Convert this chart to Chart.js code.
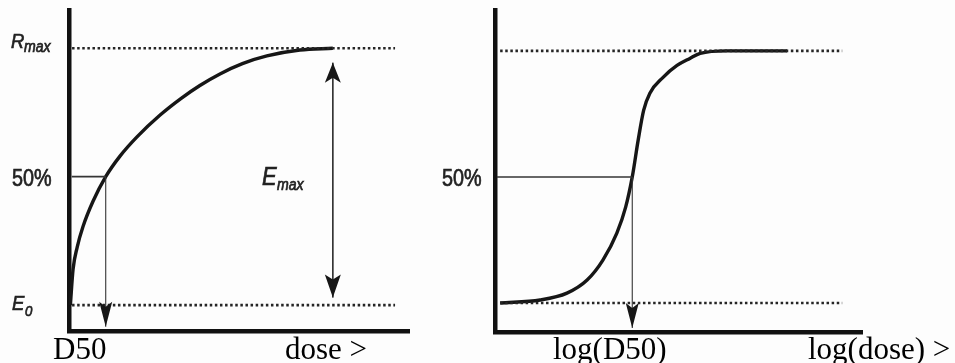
<!DOCTYPE html>
<html>
<head>
<meta charset="utf-8">
<script src="https://cdn.jsdelivr.net/npm/chart.js@4/dist/chart.umd.min.js"></script>
<style>
  html, body { margin: 0; padding: 0; background: #ffffff; }
  #wrap { position: relative; width: 955px; height: 363px; overflow: hidden; background: #fdfdfd; }
  #wrap canvas { position: absolute; top: 0; }
</style>
</head>
<body>
<div id="wrap">
  <canvas id="linPanel" width="430" height="363" style="left:0px"></canvas>
  <canvas id="logPanel" width="525" height="363" style="left:430px"></canvas>
</div>
<script>
// ---- Hyperbolic dose-response (linear dose axis) ----
const doseX    = [0.04, 0.12, 0.24, 0.41, 0.71, 1.08, 1.50, 2.00, 2.68, 3.30, 3.85, 4.44, 5.10, 5.82, 6.79, 7.76];
const doseResp = [0.0, 14.0, 22.5, 30.5, 40.5, 50.0, 58.0, 65.5, 74.0, 80.5, 85.5, 90.0, 94.0, 97.0, 99.3, 100];

// ---- Sigmoid response (log dose axis) ----
const logDoseX    = [0.14, 1.23, 1.96, 2.51, 2.94, 3.32, 3.56, 3.74, 3.90, 4.05, 4.22, 4.58, 4.96, 5.31, 5.59, 6.32, 7.96];
const logDoseResp = [0.0, 1.2, 3.9, 9.1, 17.0, 27.7, 38.0, 50.0, 64.5, 76.4, 83.2, 89.5, 94.2, 97.0, 99.0, 100, 100];

// Reference levels (% of maximal response)
const E0 = 0, RMAX = 100, HALF = 50;
const D50 = 1.08;          // dose giving 50 %
const LOG_D50 = 3.74;      // log dose giving 50 %
const emaxDose = 7.76;     // where the Emax span is marked
const emaxSpan = [2.9, 94.4];

// Axis extents
const linX = [0, 10], linY = [-10.1, 114.9];
const logX = [0, 10], logY = [-11.5, 116.2];
const linRefLine = [0.09, 9.59];   // dotted reference lines, dose range
const logRefLine = [0.14, 9.46];

// Text labels
const yLabels = { rmax: ['R', 'max'], half: '50%', e0: ['E', '0'], emax: ['E', 'max'] };
const linXLabels = ['D50', 'dose >'];
const logXLabels = ['log(D50)', 'log(dose) >'];

const INK = '#161616';
const SANS = '"Liberation Sans", Arial, sans-serif';
const SERIF = '"Liberation Serif", "Times New Roman", serif';

function pts(xs, ys) { return xs.map((x, i) => ({ x, y: ys[i] })); }

function curveDs(data) {
  return { data, borderColor: INK, borderWidth: 3.4, pointRadius: 0,
           cubicInterpolationMode: 'monotone', fill: false };
}
function dottedDs(x0, x1, y) {
  return { data: [{ x: x0, y }, { x: x1, y }], borderColor: '#252525', borderWidth: 2.7,
           borderDash: [2.5, 2.6], pointRadius: 0, fill: false };
}
function thinDs(data, w) {
  return { data, borderColor: '#353535', borderWidth: w, pointRadius: 0, fill: false, tension: 0 };
}

// Filled arrowhead with a small notch; dir +1 points down, -1 points up
function arrowHead(ctx, x, y, dir, hw, len, notch) {
  ctx.beginPath();
  ctx.moveTo(x, y);
  ctx.lineTo(x - hw, y - dir * len);
  ctx.lineTo(x, y - dir * (len - notch));
  ctx.lineTo(x + hw, y - dir * len);
  ctx.closePath();
  ctx.fill();
}

// Condensed, slightly heavy sans text
function squeezed(ctx, text, x, y, font, sx) {
  ctx.save();
  ctx.font = font;
  ctx.translate(x, y);
  ctx.scale(sx, 1);
  ctx.lineWidth = 0.7;
  ctx.strokeStyle = ctx.fillStyle;
  ctx.fillText(text, 0, 0);
  ctx.strokeText(text, 0, 0);
  ctx.restore();
}

const arrowPlugin = {
  id: 'arrows',
  afterDatasetsDraw(chart, args, opts) {
    const { ctx } = chart;
    const xs = chart.scales.x, ys = chart.scales.y;
    ctx.save();
    ctx.fillStyle = INK;
    (opts.heads || []).forEach(h => {
      arrowHead(ctx, xs.getPixelForValue(h.x), ys.getPixelForValue(h.y), h.dir, h.hw, h.len, h.notch);
    });
    ctx.restore();
  }
};

const textPlugin = {
  id: 'texts',
  afterDraw(chart, args, opts) { if (opts.draw) opts.draw(chart); }
};

function axisScale(range, isX) {
  return {
    type: 'linear', min: range[0], max: range[1],
    ticks: { display: false }, grid: { display: false, drawTicks: false },
    border: { display: true, width: 4.5, color: '#111' },
    afterFit(s) { if (isX) s.height = 0; else s.width = 0; }
  };
}

function panel(id, padding, xr, yr, datasets, heads, draw) {
  return new Chart(document.getElementById(id), {
    type: 'line',
    data: { datasets },
    plugins: [arrowPlugin, textPlugin],
    options: {
      responsive: false, animation: false, parsing: true,
      layout: { padding },
      scales: { x: axisScale(xr, true), y: axisScale(yr, false) },
      plugins: { legend: { display: false }, tooltip: { enabled: false },
                 arrows: { heads }, texts: { draw } }
    }
  });
}

// ---- Left panel: response vs dose ----
panel('linPanel', { left: 69, right: 21, top: 10, bottom: 32 }, linX, linY, [
  dottedDs(linRefLine[0], linRefLine[1], RMAX),
  dottedDs(linRefLine[0], linRefLine[1], E0),
  thinDs([{ x: 0.08, y: HALF }, { x: D50, y: HALF }], 1.6),
  thinDs([{ x: D50, y: HALF }, { x: D50, y: -8.4 }], 1.1),
  thinDs([{ x: emaxDose, y: emaxSpan[0] }, { x: emaxDose, y: emaxSpan[1] }], 1.7),
  curveDs(pts(doseX, doseResp))
], [
  { x: D50, y: -8.4, dir: 1, hw: 6.5, len: 25, notch: 5 },
  { x: emaxDose, y: emaxSpan[1], dir: -1, hw: 8, len: 20, notch: 5 },
  { x: emaxDose, y: emaxSpan[0], dir: 1, hw: 8, len: 23, notch: 5 }
], chart => {
  const { ctx } = chart;
  const ys = chart.scales.y;
  const rmaxPx = ys.getPixelForValue(RMAX), halfPx = ys.getPixelForValue(HALF), e0Px = ys.getPixelForValue(E0);
  ctx.save();
  ctx.fillStyle = '#222';
  ctx.textBaseline = 'alphabetic';
  squeezed(ctx, yLabels.rmax[0], 11, rmaxPx, 'italic 21px ' + SANS, 0.88);
  squeezed(ctx, yLabels.rmax[1], 24, rmaxPx + 4, 'italic 16px ' + SANS, 0.88);
  squeezed(ctx, yLabels.half, 12, halfPx + 9, '23px ' + SANS, 0.86);
  squeezed(ctx, yLabels.e0[0], 12, e0Px + 5, 'italic 21px ' + SANS, 0.88);
  squeezed(ctx, yLabels.e0[1], 25, e0Px + 11, 'italic 15px ' + SANS, 0.88);
  squeezed(ctx, yLabels.emax[0], 262, halfPx + 8, 'italic 25px ' + SANS, 0.88);
  squeezed(ctx, yLabels.emax[1], 277, halfPx + 13, 'italic 16px ' + SANS, 0.88);
  ctx.fillStyle = '#000';
  ctx.font = '31px ' + SERIF;
  ctx.fillText(linXLabels[0], 53, 359);
  ctx.fillText(linXLabels[1], 285, 359);
  ctx.restore();
});

// ---- Right panel: response vs log(dose) ----
panel('logPanel', { left: 65, right: 93, top: 10, bottom: 31 }, logX, logY, [
  dottedDs(logRefLine[0], logRefLine[1], RMAX),
  dottedDs(logRefLine[0], logRefLine[1], E0),
  thinDs([{ x: 0.05, y: HALF }, { x: LOG_D50, y: HALF }], 1.6),
  thinDs([{ x: LOG_D50, y: HALF }, { x: LOG_D50, y: -9.9 }], 1.1),
  curveDs(pts(logDoseX, logDoseResp))
], [
  { x: LOG_D50, y: -9.9, dir: 1, hw: 6.5, len: 25, notch: 5 }
], chart => {
  const { ctx } = chart;
  const ys = chart.scales.y;
  const halfPx = ys.getPixelForValue(HALF);
  ctx.save();
  ctx.fillStyle = '#222';
  ctx.textBaseline = 'alphabetic';
  squeezed(ctx, yLabels.half, 12, halfPx + 9, '23px ' + SANS, 0.86);
  ctx.fillStyle = '#000';
  ctx.font = '31px ' + SERIF;
  ctx.fillText(logXLabels[0], 123, 359);
  ctx.fillText(logXLabels[1], 378, 359);
  ctx.restore();
});
</script>
</body>
</html>
